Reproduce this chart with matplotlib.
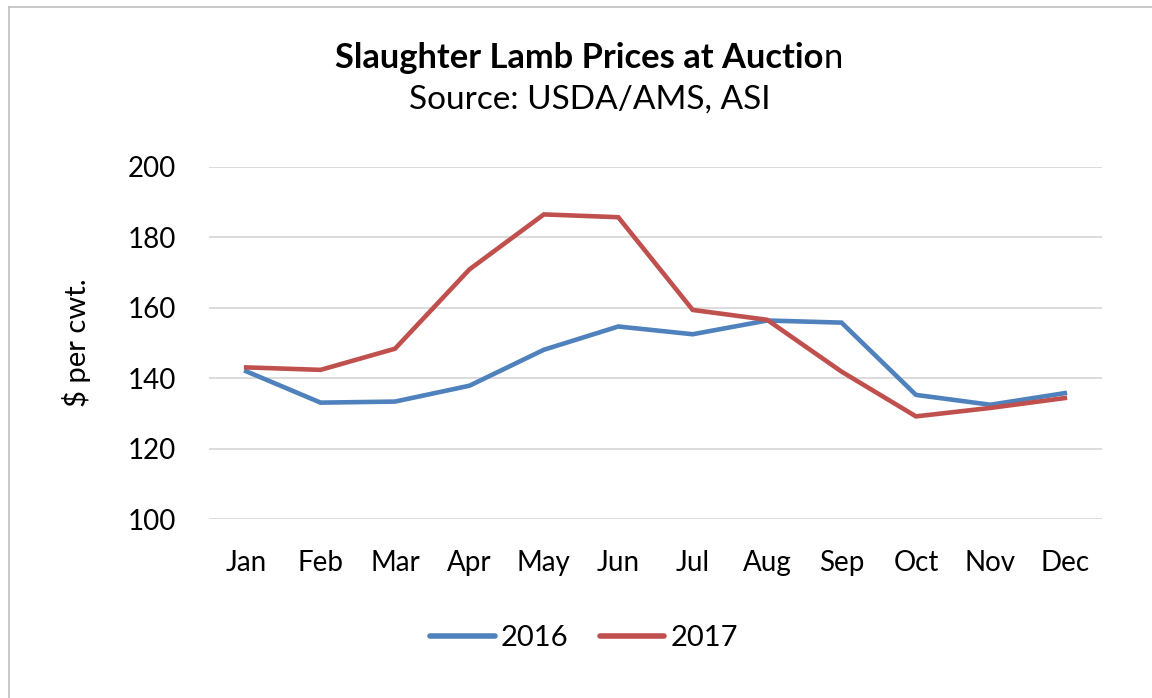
import numpy as np
import matplotlib
matplotlib.use('Agg')
import matplotlib.pyplot as plt
from matplotlib.lines import Line2D

plt.rcParams['font.family'] = ['Lato', 'DejaVu Sans']

months = ['Jan', 'Feb', 'Mar', 'Apr', 'May', 'Jun', 'Jul', 'Aug', 'Sep', 'Oct', 'Nov', 'Dec']
price_2016 = [142.0, 133.1, 133.4, 137.9, 148.1, 154.7, 152.5, 156.4, 155.8, 135.3, 132.5, 135.8]
price_2017 = [143.1, 142.4, 148.4, 170.9, 186.5, 185.7, 159.4, 156.6, 141.9, 129.2, 131.6, 134.4]
y_ticks = [100, 120, 140, 160, 180, 200]

blue = '#4F81BD'
red = '#C0504D'

fig = plt.figure(figsize=(11.52, 6.98), dpi=100)
ax = fig.add_axes([0.1814, 0.256, 0.7752, 0.505])

x = np.arange(len(months))
ax.plot(x, price_2016, color=blue, lw=3.3, solid_joinstyle='miter', label='2016')
ax.plot(x, price_2017, color=red, lw=3.3, solid_joinstyle='miter', label='2017')

ax.set_xlim(-0.5, len(months) - 0.5)
ax.set_ylim(100, 200)
ax.set_yticks(y_ticks)
ax.set_xticks(x)
ax.set_xticklabels(months)
ax.grid(axis='y', color='#d9d9d9', lw=1.3)
ax.set_axisbelow(True)
for s in ax.spines.values():
    s.set_visible(False)
ax.tick_params(length=0, labelsize=20, colors='#000000')
ax.tick_params(axis='x', pad=22)
ax.tick_params(axis='y', pad=24)
ax.set_ylabel('$ per cwt.', fontsize=21, labelpad=26)

# title: last letter rendered in regular weight like the original
t1 = fig.text(0.503, 0.917, 'Slaughter Lamb Prices at Auctio', ha='center', va='center',
              fontsize=24.8, fontweight='bold')
fig.canvas.draw()
bb = t1.get_window_extent()
x_end = bb.x1 / fig.bbox.width
fig.text(x_end, 0.917, 'n', ha='left', va='center', fontsize=24.8)
fig.text(0.512, 0.857, 'Source: USDA/AMS, ASI', ha='center', va='center', fontsize=24)

handles = [Line2D([], [], color=blue, lw=4, solid_capstyle='round'),
           Line2D([], [], color=red, lw=4, solid_capstyle='round')]
fig.legend(handles, ['2016', '2017'], loc='center', bbox_to_anchor=(0.507, 0.086),
           ncol=2, frameon=False, fontsize=21, handlelength=2.2, handletextpad=0.2,
           columnspacing=1.1)

# outer border (left and top edges visible)
fig.add_artist(Line2D([0.008, 0.008], [0, 0.99], transform=fig.transFigure, color='#bfbfbf', lw=1.2))
fig.add_artist(Line2D([0.008, 1.0], [0.99, 0.99], transform=fig.transFigure, color='#bfbfbf', lw=1.2))

fig.savefig('out.png', dpi=100, facecolor='white')
